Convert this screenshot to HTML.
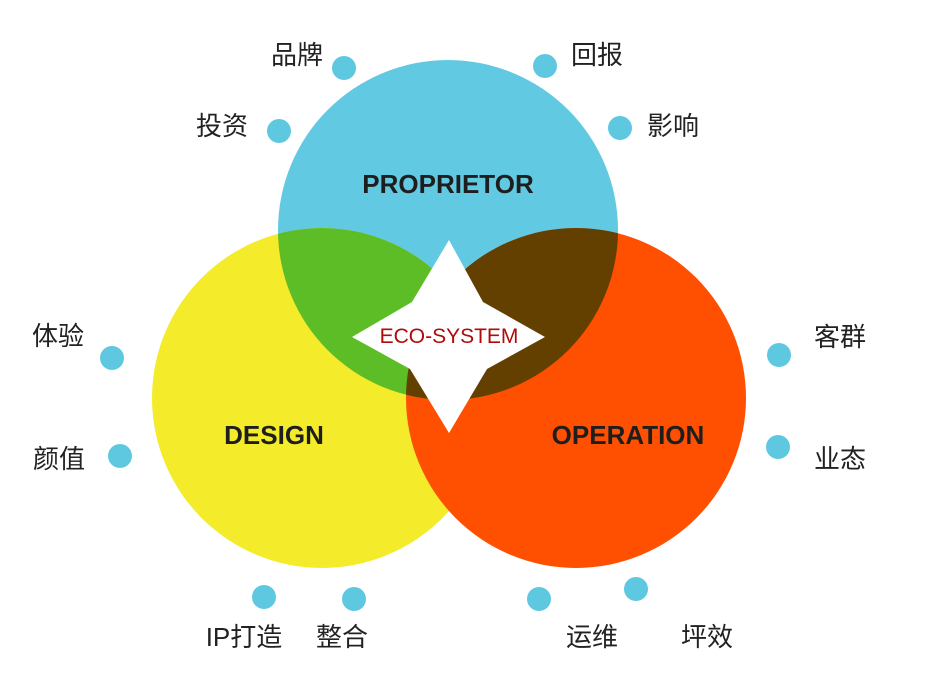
<!DOCTYPE html>
<html><head><meta charset="utf-8"><style>
html,body{margin:0;padding:0;background:#fff;width:928px;height:698px;overflow:hidden}
svg{display:block}
.l{font-family:"Liberation Sans","Noto Sans CJK SC",sans-serif;font-size:26px;fill:#222}
.h{font-family:"Liberation Sans",sans-serif;font-weight:bold;font-size:26px;fill:#1e1e1e}
</style></head><body>
<svg width="928" height="698" viewBox="0 0 928 698">
<defs>
<clipPath id="cb"><circle cx="448" cy="230" r="170"/></clipPath>
</defs>
<circle cx="448" cy="230" r="170" fill="#62c9e2"/>
<circle cx="322" cy="398" r="170" fill="#f4eb2a"/>
<circle cx="576" cy="398" r="170" fill="#fe5000"/>
<circle cx="322" cy="398" r="170" fill="#5dbd27" clip-path="url(#cb)"/>
<circle cx="576" cy="398" r="170" fill="#633f00" clip-path="url(#cb)"/>
<path d="M449,240 L483,302 L545,337 L487,369 L449,433 L410,369 L352,337 L412,302 Z" fill="#fff"/>
<text x="449" y="343" text-anchor="middle" font-family="Liberation Sans,sans-serif" font-size="21" fill="#b10a0a">ECO-SYSTEM</text>
<text x="448" y="193" text-anchor="middle" class="h">PROPRIETOR</text>
<text x="274" y="444" text-anchor="middle" class="h">DESIGN</text>
<text x="628" y="444" text-anchor="middle" class="h">OPERATION</text>
<g fill="#5ec8e0">
<circle cx="344" cy="68" r="12"/><circle cx="279" cy="131" r="12"/>
<circle cx="545" cy="66" r="12"/><circle cx="620" cy="128" r="12"/>
<circle cx="112" cy="358" r="12"/><circle cx="120" cy="456" r="12"/>
<circle cx="779" cy="355" r="12"/><circle cx="778" cy="447" r="12"/>
<circle cx="264" cy="597" r="12"/><circle cx="354" cy="599" r="12"/>
<circle cx="539" cy="599" r="12"/><circle cx="636" cy="589" r="12"/>
</g>
<g class="l" text-anchor="middle">
<text x="297" y="64">品牌</text><text x="222" y="135">投资</text>
<text x="597" y="64">回报</text><text x="673" y="135">影响</text>
<text x="58" y="345">体验</text><text x="59" y="468">颜值</text>
<text x="840" y="346">客群</text><text x="840" y="468">业态</text>
<text x="244" y="646">IP打造</text><text x="342" y="646">整合</text>
<text x="592" y="646">运维</text><text x="707" y="646">坪效</text>
</g>
</svg>
</body></html>
